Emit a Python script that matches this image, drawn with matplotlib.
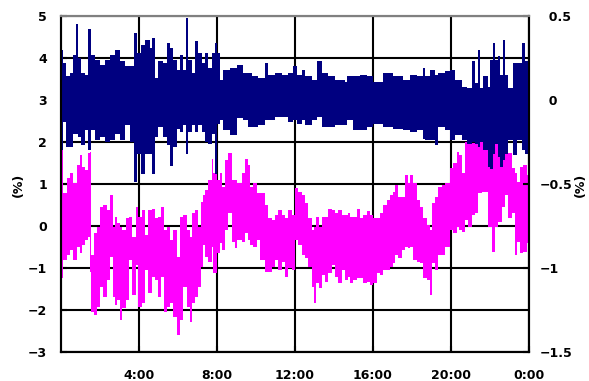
import matplotlib
matplotlib.use("Agg")
from matplotlib import pyplot as plt

# navy series (right axis, %), envelope read per short time slice
navy_h = [0.00, 0.10, 0.26, 0.46, 0.62, 0.77, 0.87, 1.03, 1.23, 1.38,
          1.54, 1.74, 2.00, 2.26, 2.51, 2.77, 3.03, 3.28, 3.54, 3.74,
          3.90, 4.10, 4.31, 4.56, 4.67, 4.82, 4.97, 5.23, 5.44, 5.59,
          5.74, 5.95, 6.10, 6.26, 6.41, 6.51, 6.72, 6.87, 7.03, 7.23,
          7.38, 7.54, 7.74, 7.90, 8.00, 8.15, 8.31, 8.67, 9.03, 9.33,
          9.59, 9.79, 10.10, 10.46, 10.62, 10.97, 11.33, 11.64, 11.90, 12.10,
          12.36, 12.51, 12.87, 13.13, 13.38, 13.69, 14.05, 14.56, 14.67, 14.97,
          15.33, 15.69, 16.00, 16.51, 17.03, 17.54, 17.90, 18.26, 18.56, 18.67,
          18.92, 19.18, 19.33, 19.69, 19.95, 20.21, 20.56, 20.82, 21.08, 21.23,
          21.38, 21.49, 21.64, 21.90, 22.00, 22.15, 22.26, 22.41, 22.51, 22.67,
          22.77, 22.92, 23.18, 23.38, 23.64, 23.79]
navy_hi = [0.30, 0.22, 0.14, 0.16, 0.27, 0.45, 0.25, 0.16, 0.15, 0.42,
           0.27, 0.24, 0.21, 0.24, 0.27, 0.30, 0.23, 0.20, 0.20, 0.40,
           0.28, 0.33, 0.36, 0.31, 0.37, 0.13, 0.23, 0.22, 0.34, 0.31,
           0.24, 0.18, 0.27, 0.18, 0.49, 0.24, 0.16, 0.35, 0.28, 0.22,
           0.28, 0.19, 0.28, 0.34, 0.28, 0.12, 0.18, 0.19, 0.21, 0.16,
           0.16, 0.14, 0.13, 0.22, 0.15, 0.16, 0.15, 0.16, 0.20, 0.15,
           0.18, 0.14, 0.12, 0.23, 0.16, 0.14, 0.12, 0.11, 0.14, 0.14,
           0.15, 0.14, 0.11, 0.16, 0.14, 0.12, 0.15, 0.14, 0.19, 0.14,
           0.18, 0.15, 0.16, 0.17, 0.18, 0.12, 0.08, 0.07, 0.23, 0.10,
           0.30, 0.07, 0.14, 0.08, 0.24, 0.34, 0.24, 0.26, 0.15, 0.36,
           0.15, 0.07, 0.22, 0.22, 0.34, 0.23]
navy_lo = [-0.30, -0.13, -0.28, -0.28, -0.20, -0.20, -0.22, -0.27, -0.18, -0.30,
           -0.18, -0.24, -0.22, -0.25, -0.24, -0.20, -0.24, -0.15, -0.25, -0.49,
           -0.32, -0.44, -0.32, -0.32, -0.44, -0.22, -0.16, -0.22, -0.27, -0.39,
           -0.28, -0.17, -0.19, -0.15, -0.32, -0.19, -0.15, -0.19, -0.15, -0.19,
           -0.25, -0.26, -0.20, -0.44, -0.14, -0.12, -0.18, -0.21, -0.11, -0.12,
           -0.16, -0.16, -0.15, -0.12, -0.12, -0.10, -0.10, -0.13, -0.12, -0.14,
           -0.12, -0.15, -0.12, -0.10, -0.16, -0.16, -0.15, -0.15, -0.12, -0.18,
           -0.18, -0.16, -0.14, -0.16, -0.17, -0.18, -0.19, -0.18, -0.23, -0.24,
           -0.24, -0.27, -0.16, -0.18, -0.24, -0.21, -0.24, -0.26, -0.25, -0.26,
           -0.28, -0.25, -0.30, -0.40, -0.41, -0.32, -0.26, -0.34, -0.40, -0.36,
           -0.32, -0.24, -0.33, -0.24, -0.30, -0.32]

# magenta series (left axis, %)
pink_h = [0.00, 0.10, 0.31, 0.46, 0.62, 0.82, 0.97, 1.08, 1.23, 1.38,
          1.49, 1.54, 1.69, 1.85, 2.00, 2.15, 2.36, 2.51, 2.67, 2.77,
          2.87, 3.03, 3.13, 3.33, 3.49, 3.64, 3.85, 3.95, 4.15, 4.31,
          4.46, 4.67, 4.82, 4.97, 5.13, 5.28, 5.44, 5.59, 5.74, 5.95,
          6.10, 6.26, 6.46, 6.62, 6.72, 6.87, 7.03, 7.18, 7.28, 7.38,
          7.54, 7.74, 7.79, 8.00, 8.15, 8.26, 8.41, 8.56, 8.77, 8.92,
          9.03, 9.28, 9.44, 9.59, 9.69, 9.85, 10.05, 10.21, 10.46, 10.62,
          10.82, 10.97, 11.13, 11.33, 11.49, 11.64, 11.85, 12.00, 12.15, 12.36,
          12.51, 12.67, 12.87, 12.97, 13.08, 13.23, 13.38, 13.54, 13.69, 13.90,
          14.05, 14.21, 14.41, 14.56, 14.72, 14.82, 14.97, 15.18, 15.33, 15.49,
          15.69, 15.85, 16.00, 16.21, 16.36, 16.51, 16.72, 16.87, 17.03, 17.13,
          17.28, 17.49, 17.64, 17.79, 17.90, 18.05, 18.26, 18.41, 18.56, 18.77,
          18.92, 19.03, 19.18, 19.33, 19.54, 19.69, 19.95, 20.10, 20.31, 20.41,
          20.56, 20.72, 20.87, 21.08, 21.23, 21.38, 21.59, 21.90, 22.10, 22.26,
          22.41, 22.62, 22.77, 22.92, 23.13, 23.28, 23.38, 23.54, 23.69, 23.90]
pink_hi = [1.81, 0.79, 1.14, 1.26, 1.02, 1.45, 1.69, 1.40, 1.33, 1.74,
           1.76, -0.69, -0.17, -0.02, 0.45, 0.50, 0.38, 0.74, -0.02, 0.21,
           0.07, -0.02, -0.10, 0.19, 0.21, -0.26, 0.45, 0.21, 0.38, -0.21,
           0.38, 0.40, 0.19, 0.21, 0.45, -0.10, -0.02, -0.33, -0.10, -0.74,
           0.21, 0.26, -0.10, -0.26, 0.31, 0.38, -0.02, 0.57, 0.74, 0.86,
           1.10, 1.60, 1.26, 1.10, 1.26, 0.93, 1.57, 1.74, 1.10, 1.10,
           1.02, 1.26, 1.60, 1.45, 0.93, 1.02, 0.79, 0.79, 0.50, 0.19,
           0.14, 0.26, 0.38, 0.26, 0.19, 0.38, 0.26, 0.90, 0.81, 0.74,
           0.55, 0.19, -0.10, -0.02, 0.21, -0.02, 0.21, 0.21, 0.40, 0.38,
           0.31, 0.38, 0.26, 0.26, 0.31, 0.21, 0.21, 0.40, 0.19, 0.26,
           0.36, 0.26, 0.19, 0.19, 0.31, 0.50, 0.62, 0.74, 0.81, 0.98,
           0.69, 0.69, 1.21, 1.02, 1.21, 1.02, 0.62, 0.45, 0.19, 0.02,
           -0.10, 0.55, 0.69, 0.93, 0.98, 1.02, 1.38, 1.50, 1.76, 1.69,
           1.26, 2.00, 2.21, 1.98, 1.98, 2.21, 2.29, 1.86, 1.76, 2.05,
           1.81, 1.69, 1.98, 1.74, 1.38, 1.26, 1.05, 1.40, 1.45, 1.21]
pink_lo = [-1.24, -0.81, -0.69, -0.57, -0.81, -0.50, -0.64, -0.45, -0.33, -0.26,
           -1.10, -2.05, -2.12, -1.93, -1.45, -1.69, -1.29, -0.74, -1.69, -1.88,
           -1.76, -2.24, -1.95, -1.76, -0.81, -1.64, -0.93, -1.93, -1.83, -1.05,
           -1.60, -1.21, -1.29, -1.69, -1.21, -2.05, -1.93, -1.83, -2.17, -2.60,
           -2.24, -1.45, -1.93, -2.29, -1.83, -1.69, -1.45, -0.98, -0.45, -0.74,
           -0.86, -0.50, -1.12, -0.64, -0.40, -0.57, -0.10, 0.31, -0.38, -0.52,
           -0.33, -0.38, -0.17, -0.33, -0.45, -0.50, -0.33, -0.81, -1.10, -1.10,
           -0.98, -0.81, -1.05, -0.86, -1.21, -1.00, -1.05, -0.33, -0.45, -0.69,
           -0.76, -0.98, -1.45, -1.83, -1.36, -1.48, -1.17, -1.33, -1.12, -0.93,
           -1.21, -1.36, -1.05, -1.29, -1.21, -1.36, -1.29, -1.24, -1.24, -1.36,
           -1.33, -1.40, -1.36, -1.12, -1.17, -1.05, -1.05, -0.98, -0.88, -0.69,
           -0.76, -0.57, -0.50, -0.52, -0.50, -0.81, -0.86, -0.88, -1.24, -1.29,
           -1.64, -0.88, -1.05, -0.69, -0.69, -0.50, -0.10, -0.17, -0.02, -0.10,
           -0.14, 0.14, -0.02, 0.26, 0.31, 0.79, 0.81, -0.02, -0.62, -0.02,
           0.10, 0.45, 0.74, 0.19, 0.31, -0.69, -0.38, -0.64, -0.62, -0.40]

x_ticks = [4, 8, 12, 16, 20, 24]
x_labels = ["4:00", "8:00", "12:00", "16:00", "20:00", "0:00"]
left_ticks = [-3, -2, -1, 0, 1, 2, 3, 4, 5]
right_ticks = [-1.5, -1, -0.5, 0, 0.5]

plt.rcParams['font.family'] = ['DejaVu Sans']
plt.rcParams['font.weight'] = 'bold'

fig = plt.figure(figsize=(5.89, 3.81), dpi=100)
ax = fig.add_axes([61/589, 1 - 352/381, 468/589, 336/381])
ax2 = ax.twinx()

# step envelopes, closed at 24:00
ax.fill_between(pink_h + [24], pink_lo + [pink_lo[-1]], pink_hi + [pink_hi[-1]],
                step='post', color='#ff00ff', linewidth=0, zorder=2)
ax2.fill_between(navy_h + [24], navy_lo + [navy_lo[-1]], navy_hi + [navy_hi[-1]],
                 step='post', color='#000080', linewidth=0, zorder=2)

ax.set_xlim(0, 24)
ax.set_ylim(-3, 5)
ax2.set_ylim(-1.5, 0.5)

ax.set_xticks(x_ticks)
ax.set_xticklabels(x_labels)
ax.set_yticks(left_ticks)
ax.set_yticklabels([str(v).replace('-', '\u2212') for v in left_ticks])
ax2.set_yticks(right_ticks)
# digits line up, minus hangs to the left
ax2.set_yticklabels([('%g' % v).replace('-', '\u2212') if v < 0 else '\u2007' + '%g' % v
                     for v in right_ticks])

ax.grid(True, color='black', linewidth=1.5, zorder=0)
ax.set_axisbelow(True)

ax.tick_params(axis='both', direction='in', length=4, width=1.5, labelsize=9)
ax.tick_params(axis='x', pad=12)
ax.tick_params(axis='y', pad=10)
ax2.tick_params(axis='y', direction='in', length=4, width=1.5, labelsize=9, pad=8)
for lab in ax2.get_yticklabels():
    lab.set_horizontalalignment('left')

for a in (ax, ax2):
    for side in ('left', 'right', 'bottom'):
        a.spines[side].set_color('black')
        a.spines[side].set_linewidth(1.5)
    a.spines['top'].set_color('#808080')
    a.spines['top'].set_linewidth(1.5)

fig.text(18/589, 1 - 185/381, "(%)", rotation=90, ha='center', va='center', fontsize=9)
fig.text(580/589, 1 - 185/381, "(%)", rotation=90, ha='center', va='center', fontsize=9)

fig.savefig("out.png", dpi=100)
